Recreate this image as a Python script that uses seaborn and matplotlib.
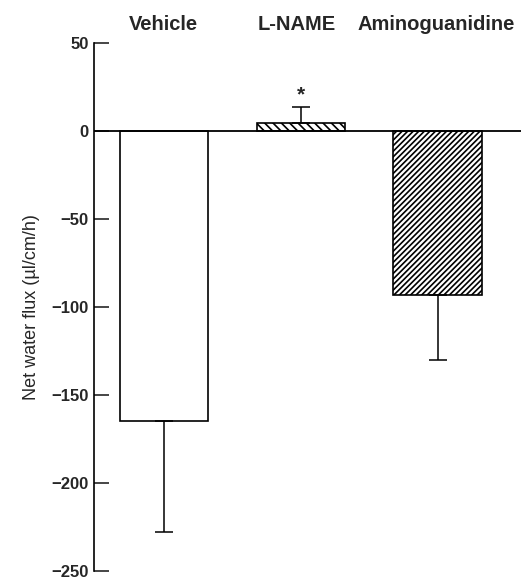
import matplotlib
matplotlib.use("Agg")
import matplotlib.pyplot as plt
import seaborn as sns
import numpy as np
import pandas as pd

categories = ["Vehicle", "L-NAME", "Aminoguanidine"]
values = [-165, 4.5, -93]
errors = [63, 9, 37]
hatches = ["", "\\\\\\\\", "//////"]

sns.set_style("white")
plt.rcParams['font.family'] = ['Liberation Sans', 'DejaVu Sans']
plt.rcParams['hatch.linewidth'] = 1.2

fig = plt.figure(figsize=(5.23, 5.80), dpi=100)
ax = fig.add_axes([94/523, 1 - 571/580, (521-94)/523, (571-43)/580])

df = pd.DataFrame({"cat": categories, "val": values})
sns.barplot(data=df, x="cat", y="val", ax=ax, color="white", edgecolor="black",
            linewidth=1.2, width=0.645, errorbar=None, saturation=1)

for p, h in zip(ax.patches, hatches):
    p.set_hatch(h)
    p.set_facecolor("white")
    p.set_edgecolor("black")

# one-sided error bars
for i, (v, e) in enumerate(zip(values, errors)):
    if v < 0:
        yerr = [[e], [0]]
    else:
        yerr = [[0], [e]]
    ax.errorbar(i, v, yerr=yerr, fmt="none", ecolor="black", elinewidth=1.1,
                capsize=6.5, capthick=1.1, zorder=3)

ax.axhline(0, color="black", lw=1.3, zorder=4)
ax.text(1, 15, "*", ha="center", va="bottom", fontsize=15, fontweight="bold")

label_x = [0, 0.97, 1.99]
for x, c in zip(label_x, categories):
    ax.text(x, 1.0246, c, transform=ax.get_xaxis_transform(), ha="center",
            va="baseline", fontsize=14.5, fontweight="bold")

ax.set_xlim(-0.51, 2.61)
ax.set_ylim(-250, 50)
ax.set_yticks([50, 0, -50, -100, -150, -200, -250])
ax.set_yticklabels(["50", "0", "\u221250", "\u2212100", "\u2212150", "\u2212200", "\u2212250"],
                   fontsize=12, fontweight="bold")
ax.tick_params(axis="y", direction="in", length=11, width=1.2, left=True, pad=4)
ax.set_xticks([])
ax.set_xlabel("")
ax.set_ylabel("Net water flux (\u00b5l/cm/h)", fontsize=13, labelpad=8)
for s in ["top", "right", "bottom"]:
    ax.spines[s].set_visible(False)
ax.spines["left"].set_linewidth(1.2)
ax.spines["left"].set_color("black")

fig.savefig("out.png", dpi=100)
